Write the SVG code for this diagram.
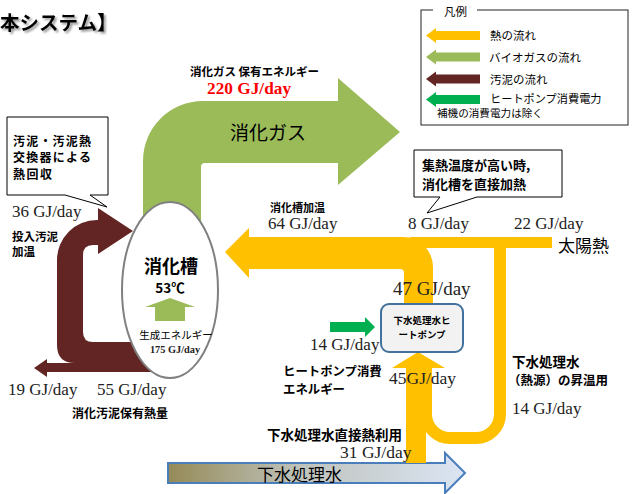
<svg xmlns="http://www.w3.org/2000/svg" width="635" height="494" viewBox="0 0 635 494">
<defs>
<linearGradient id="gw" x1="0" y1="0" x2="1" y2="0">
<stop offset="0" stop-color="#958a57"/>
<stop offset="0.45" stop-color="#bfc3bd"/>
<stop offset="1" stop-color="#dbe5f4"/>
</linearGradient>
<filter id="shadow" x="-10%" y="-30%" width="130%" height="180%">
<feDropShadow dx="2" dy="2" stdDeviation="1" flood-color="#000" flood-opacity="0.4"/>
</filter>
<style>
.jp{font-family:"Noto Sans CJK JP","Noto Sans",sans-serif;fill:#000}
.b{font-weight:bold}
.num{font-family:"Liberation Serif","Times New Roman",serif;fill:#222}
.heat{fill:#ffc000}
.gas{fill:#9bbb59}
.sludge{fill:#632523}
.hp{fill:#00b050}
.call{fill:#fff;stroke:#000;stroke-width:1}
</style>
</defs>

<!-- title -->
<g id="title">
<text x="0" y="29.5" class="jp b" font-size="19.5" filter="url(#shadow)">本システム】</text>
</g>

<!-- legend -->
<g id="legend">
<rect x="421" y="10" width="207" height="115" fill="#fff" stroke="#222" stroke-width="1"/>
<rect x="433" y="5" width="44" height="10" fill="#fff"/>
<text x="444" y="16" class="jp" font-size="11.5">凡例</text>
<polygon class="heat" points="426,35.5 436,28 436,31 480,31 480,40 436,40 436,43"/>
<polygon class="gas" points="426,57 436,49.5 436,52.5 480,52.5 480,61.5 436,61.5 436,64.5"/>
<polygon class="sludge" points="426,79 436,71.5 436,74.5 480,74.5 480,83.5 436,83.5 436,86.5"/>
<polygon class="hp" points="426,99.5 436,92 436,95 480,95 480,104 436,104 436,107"/>
<text x="490" y="39.5" class="jp" font-size="11.5">熱の流れ</text>
<text x="489" y="61.5" class="jp" font-size="11.5">バイオガスの流れ</text>
<text x="490" y="83.5" class="jp" font-size="11.5">汚泥の流れ</text>
<text x="490" y="103" class="jp" font-size="11.2">ヒートポンプ消費電力</text>
<text x="437" y="117" class="jp" font-size="10.6">補機の消費電力は除く</text>
</g>

<!-- connectors / flows -->
<g id="flows">
<!-- biogas -->
<path class="gas" d="M143 232 L143 161 A60 60 0 0 1 203 101 L338 101 L338 78 L400 132 L338 185 L338 163 L205 163 Q201 163 201 167 L201 232 Z"/>
<!-- sludge -->
<path class="sludge" d="M98 220 L98 208 L133 231 L98 254 L98 245 L93 245 Q83 245 83 255 L83 332 Q83 342 93 342 L170 342 L170 372 L47 372 L47 377 L34 368 L47 359 L47 363 L75 363 Q57 363 57 345 L57 260 A40 40 0 0 1 97 220 Z"/>
<!-- bottom sewage water bar -->
<path d="M168 463 L445 463 L445 453 L465 473 L445 493 L445 483 L168 483 Z" fill="url(#gw)" stroke="#4a7ebb" stroke-width="2"/>
<!-- heat: direct from sewage water 31 -->
<rect class="heat" x="406" y="366" width="20" height="97"/>
<!-- heat: solar 14 U -->
<path d="M426 366 L426 414 A24 24 0 0 0 450 438 L476 438 A24 24 0 0 0 500 414 L500 243" fill="none" stroke="#ffc000" stroke-width="12"/>
<!-- solar top band -->
<rect class="heat" x="410" y="237" width="142" height="11"/>
<!-- arrow into heat pump -->
<polygon class="heat" points="392,368 445,368 418,352"/>
<!-- main heat to digester -->
<path class="heat" d="M249 237 L403 237 A30 30 0 0 1 433 267 L433 306 L404 306 L404 273 Q404 269 400 269 L249 269 L249 278 L225 252 L249 228 Z"/>
<!-- heat pump power -->
<polygon class="hp" points="330,322 365,322 365,317 375,327 365,337 365,332 330,332"/>
</g>

<!-- digester -->
<g id="digester">
<ellipse cx="170" cy="290" rx="48" ry="88" fill="#fff" stroke="#808080" stroke-width="2"/>
<text x="171" y="273" class="jp b" font-size="18" text-anchor="middle">消化槽</text>
<text x="170" y="293" class="jp b" font-size="13.5" text-anchor="middle">53℃</text>
<polygon class="gas" points="145,307 170,298 195,307 185,307 185,321 155,321 155,307"/>
<text x="176" y="339" class="jp" font-size="10.5" text-anchor="middle">生成エネルギー</text>
<text x="175" y="353" class="num b" font-size="10.3" text-anchor="middle">175 GJ/day</text>
</g>

<!-- heat pump -->
<g id="heatpump">
<rect x="381" y="304" width="82" height="48" rx="8" fill="#f2f2f2" stroke="#41719c" stroke-width="2"/>
<text x="422" y="323.5" class="jp b" font-size="9.5" text-anchor="middle">下水処理水ヒ</text>
<text x="422" y="337.5" class="jp b" font-size="9.5" text-anchor="middle">ートポンプ</text>
</g>

<!-- callouts -->
<g id="callout-left">
<path class="call" d="M7 117 H108 V195 H90 L107 207 L65 195 H7 Z"/>
<text x="13" y="145.5" class="jp b" font-size="12" textLength="78">汚泥・汚泥熱</text>
<text x="13" y="162" class="jp b" font-size="12" textLength="78">交換器による</text>
<text x="13" y="178.5" class="jp b" font-size="12" textLength="39">熱回収</text>
</g>
<g id="callout-right">
<path class="call" d="M414 150 H562 V197 H477 L427 213 L440 197 H414 Z"/>
<text x="422" y="170" class="jp b" font-size="13">集熱温度が高い時,</text>
<text x="422" y="189" class="jp b" font-size="13">消化槽を直接加熱</text>
</g>

<!-- labels -->
<g id="labels">
<text x="190" y="75.5" class="jp b" font-size="11.5">消化ガス 保有エネルギー</text>
<text x="207" y="94" class="num b" font-size="17.3" style="fill:#ff0000">220 GJ/day</text>
<text x="230" y="140" class="jp" font-size="19">消化ガス</text>
<text x="12" y="217" class="num" font-size="17">36 GJ/day</text>
<text x="12" y="241" class="jp b" font-size="11.5">投入汚泥</text>
<text x="12" y="256" class="jp b" font-size="11.5">加温</text>
<text x="8" y="395" class="num" font-size="17">19 GJ/day</text>
<text x="97" y="395" class="num" font-size="17">55 GJ/day</text>
<text x="72" y="417.5" class="jp b" font-size="12">消化汚泥保有熱量</text>
<text x="270" y="212" class="jp b" font-size="11">消化槽加温</text>
<text x="268" y="229" class="num" font-size="17">64 GJ/day</text>
<text x="408" y="229" class="num" font-size="17">8 GJ/day</text>
<text x="514" y="229" class="num" font-size="17">22 GJ/day</text>
<text x="558" y="252" class="jp" font-size="17">太陽熱</text>
<text x="393" y="295" class="num" font-size="19">47 GJ/day</text>
<text x="310" y="350" class="num" font-size="17">14 GJ/day</text>
<text x="283" y="376" class="jp b" font-size="12.4">ヒートポンプ消費</text>
<text x="283" y="394" class="jp b" font-size="12.4">エネルギー</text>
<text x="389" y="384" class="num" font-size="17.5">45GJ/day</text>
<text x="512" y="367" class="jp b" font-size="13.5">下水処理水</text>
<text x="508" y="385" class="jp b" font-size="12.5">（熱源）の昇温用</text>
<text x="512" y="414" class="num" font-size="17">14 GJ/day</text>
<text x="267" y="440" class="jp b" font-size="13.5">下水処理水直接熱利用</text>
<text x="340" y="458" class="num" font-size="17.5">31 GJ/day</text>
<text x="257" y="481" class="jp" font-size="17">下水処理水</text>
</g>
</svg>
